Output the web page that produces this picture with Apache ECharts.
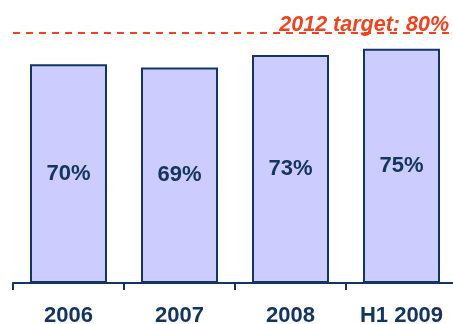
<!DOCTYPE html>
<html>
<head>
<meta charset="utf-8">
<script src="https://cdn.jsdelivr.net/npm/echarts@6/dist/echarts.min.js"></script>
<style>html,body{margin:0;padding:0;background:#fff;}#c{width:453px;height:324px;}</style>
</head>
<body>
<div id="c"></div>
<script>
var categories = ['2006', '2007', '2008', 'H1 2009'];
var values = [70, 69, 73, 75];
var targetValue = 80;
var targetLabel = '2012 target: 80%';

var navy = '#143562';
var chart = echarts.init(document.getElementById('c'), null, {renderer: 'canvas'});
chart.setOption({
  animation: false,
  grid: {left: 13, right: -4, top: 33, bottom: 41, containLabel: false, outerBoundsMode: 'none'},
  xAxis: {
    type: 'category',
    data: categories,
    axisLine: {lineStyle: {color: navy, width: 2}},
    axisTick: {show: true, length: 7, lineStyle: {color: navy, width: 2}},
    axisLabel: {color: navy, fontSize: 22, fontWeight: 'bold', fontFamily: 'Liberation Sans, Arial, sans-serif', margin: 22, interval: 0}
  },
  yAxis: {type: 'value', min: 0, max: 80, show: false, splitLine: {show: false}},
  series: [{
    type: 'bar',
    data: values,
    barWidth: 77,
    itemStyle: {color: '#ccccff', borderColor: navy, borderWidth: 2},
    label: {show: true, position: 'inside', formatter: '{c}%', color: navy, fontSize: 22, fontWeight: 'bold', fontFamily: 'Liberation Sans, Arial, sans-serif'},
    markLine: {
      silent: true,
      symbol: 'none',
      lineStyle: {color: '#ee4422', type: [7, 6], width: 2},
      label: {show: true, position: 'insideEndTop', formatter: targetLabel, color: '#ee4422', fontSize: 21.5, fontWeight: 'bold', fontStyle: 'italic', fontFamily: 'Liberation Sans, Arial, sans-serif', distance: [8, -3]},
      data: [{yAxis: targetValue}]
    }
  }]
});
</script>
</body>
</html>
